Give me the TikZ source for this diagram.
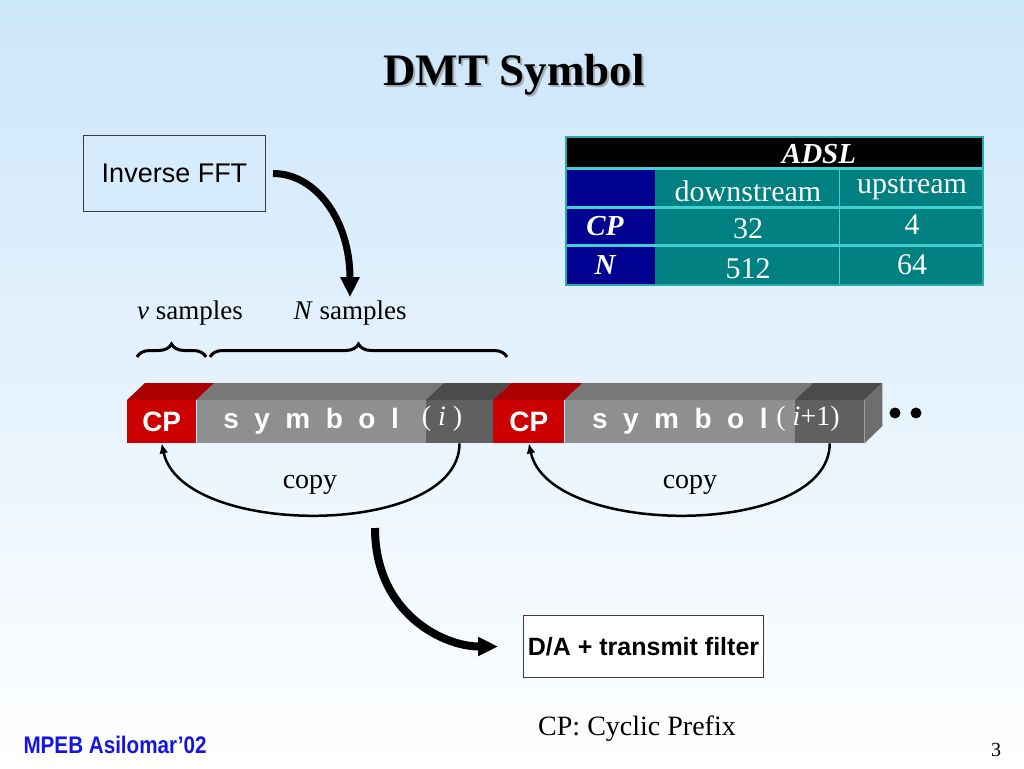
\documentclass[tikz,border=0pt]{standalone}
\usepackage{fontspec}
\setmainfont{Liberation Serif}
\setsansfont{Liberation Sans}
\newfontfamily\footsans[FakeStretch=0.86]{Liberation Sans}
\usepackage{tikz}
\usetikzlibrary{arrows.meta, positioning, decorations.pathreplacing}
\newcommand{\fsz}[1]{\fontsize{#1}{#1}\selectfont}
\newcommand{\spacedword}[1]{{\spaceskip=15.5pt\relax #1}}
\definecolor{bgtop}{RGB}{204,230,250}
\definecolor{shadowgray}{RGB}{165,175,185}
\definecolor{ifftfill}{RGB}{214,236,252}
\definecolor{boxline}{RGB}{60,60,60}
\definecolor{navycol}{RGB}{0,0,145}
\definecolor{tealcol}{RGB}{0,128,128}
\definecolor{cyanline}{RGB}{64,208,208}
\definecolor{tableborder}{RGB}{40,170,170}
\definecolor{cpfront}{RGB}{204,0,0}
\definecolor{cptop}{RGB}{170,0,0}
\definecolor{symfront}{RGB}{143,143,143}
\definecolor{symtop}{RGB}{120,120,120}
\definecolor{tailfront}{RGB}{96,96,96}
\definecolor{tailtop}{RGB}{75,75,75}
\definecolor{sideface}{RGB}{110,110,110}
\definecolor{footblue}{RGB}{20,20,230}
\tikzstyle{blockbox} = [draw=boxline, line width=1pt, rectangle, inner sep=0pt, font=\sffamily\fsz{27}]
\tikzstyle{face} = [rectangle, inner sep=0pt, minimum height=43pt, anchor=north west, text=white, font=\sffamily\bfseries\fsz{28}]
\tikzstyle{cell} = [text=white, font=\fsz{30}]
\tikzstyle{rowhead} = [text=white, font=\bfseries\itshape\fsz{29}]
\tikzstyle{samplebrace} = [decorate, decoration={brace, amplitude=13pt}, line width=3pt]
\tikzstyle{bigarrow} = [-{Triangle[length=20pt, width=18pt]}]
\tikzstyle{copyarrow} = [-{Latex[length=10pt, width=9pt]}, line width=2.5pt]

\begin{document}
\begin{tikzpicture}[x=1pt, y=-1pt]
	\useasboundingbox (0,0) rectangle (1024,768);
	\shade[top color=bgtop, bottom color=white] (0,0) rectangle (1024,768);
	% title with its shadow
	\node[font=\bfseries\fsz{45}, text=shadowgray] (titleshadow) at (516,77) {DMT Symbol};
	\node[font=\bfseries\fsz{45}] (title) at (514,75) {DMT Symbol};
	\node[blockbox, fill=ifftfill, minimum width=182pt, minimum height=76pt, anchor=north west] (ifft) at (83,135) {Inverse FFT};
	% ADSL table
	\fill[black] (566,137) rectangle (983,168);
	\fill[navycol] (566,168) rectangle (655,285);
	\fill[tealcol] (655,168) rectangle (983,285);
	\draw[cyanline, line width=1pt] (839,168) -- (839,285);
	\foreach \y in {168,207,245}
		\draw[cyanline, line width=3pt] (566,\y) -- (983,\y);
	\draw[tableborder, line width=2pt] (566,137) rectangle (983,285);
	\node[rowhead] (adsl) at (819,154) {ADSL};
	\node[cell] (down) at (748,191) {downstream};
	\node[cell] (up) at (912,188) {upstream};
	\node[rowhead] (cprow) at (605,226) {CP};
	\node[cell] (cpdown) at (748,229) {32};
	\node[cell] (cpup) at (912,225) {4};
	\node[rowhead] (nrow) at (605,265) {N};
	\node[cell] (ndown) at (748,269) {512};
	\node[cell] (nup) at (912,265) {64};
	% samples and braces
	\node[font=\fsz{27}] (vsamp) at (190,313) {\textit{v} samples};
	\node[font=\fsz{27}] (nsamp) at (350,313) {\textit{N} samples};
	\draw[samplebrace] (137,357) -- (206,357);
	\draw[samplebrace] (210,357) -- (507,357);
	% the symbol bar
	\node[face, fill=cpfront, minimum width=69pt] (cp1) at (127,400) {CP};
	\node[face, fill=symfront, minimum width=229pt, right=0pt of cp1] (sym1) {\spacedword{s y m b o l}};
	\node[face, fill=tailfront, minimum width=67pt, right=0pt of sym1] (tail1) {};
	\node[face, fill=cpfront, minimum width=71pt, right=0pt of tail1] (cp2) {CP};
	\node[face, fill=symfront, minimum width=230pt, right=0pt of cp2] (sym2) {\spacedword{s y m b o l}};
	\node[face, fill=tailfront, minimum width=69pt, right=0pt of sym2] (tail2) {};
	\foreach \seg/\col in {cp1/cptop, sym1/symtop, tail1/tailtop, cp2/cptop, sym2/symtop, tail2/tailtop}
		\fill[\col] (\seg.north west) -- ++(18,-17) -- ([shift={(18,-17)}]\seg.north east) -- (\seg.north east) -- cycle;
	\fill[sideface] (tail2.north east) -- ++(18,-17) -- ++(0,43) -- (tail2.south east) -- cycle;
	\node[text=white, font=\fsz{28}] (idx1) at (442,419) {( \textit{i} )};
	\node[text=white, font=\fsz{28}] (idx2) at (808,419) {( \textit{i}+1)};
	\fill[black] (895,413) circle (5.5pt);
	\fill[black] (916,413) circle (5.5pt);
	% copy arcs
	\draw[copyarrow] (tail1.south) .. controls +(0,95) and +(20,95) .. (cp1.south);
	\draw[copyarrow] (tail2.south) .. controls +(0,95) and +(20,95) .. (cp2.south);
	\node[font=\fsz{28}] (copy1) at (310,485) {copy};
	\node[font=\fsz{28}] (copy2) at (690,485) {copy};
	% fat arrows
	\draw[bigarrow, line width=7pt] ([xshift=7pt]ifft.east) .. controls +(43,0) and +(0,-77) .. (nsamp.north);
	\node[blockbox, fill=white, font=\sffamily\bfseries\fsz{25}, minimum width=240pt, minimum height=62pt, anchor=north west] (da) at (523,615) {D/A + transmit filter};
	\coordinate (dastart) at (375,528);
	\draw[bigarrow, line width=8pt, shorten >=25pt] (dastart) .. controls +(0,85) and +(-80,0) .. (da.west);
	% footer
	\node[font=\fsz{28}] (cpnote) at (637,729) {CP: Cyclic Prefix};
	\node[font=\footsans\bfseries\fsz{24}, text=footblue, anchor=west] (venue) at (20,745) {MPEB Asilomar’02};
	\node[font=\fsz{20}] (pagenum) at (996,750) {3};
\end{tikzpicture}
\end{document}
